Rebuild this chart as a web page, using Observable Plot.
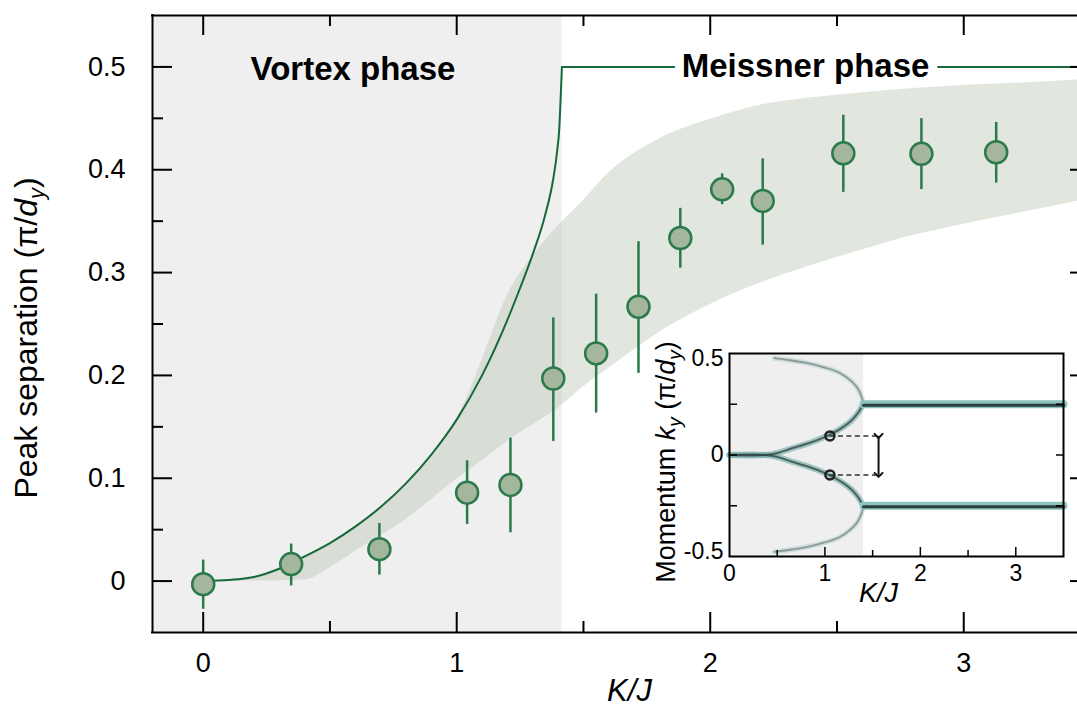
<!DOCTYPE html>
<html>
<head>
<meta charset="utf-8">
<script src="https://cdn.jsdelivr.net/npm/d3@7"></script>
<script src="https://cdn.jsdelivr.net/npm/@observablehq/plot@0.6"></script>
<style>
html,body{margin:0;padding:0;background:#fff;overflow:hidden;}
#wrap{position:relative;width:1077px;height:709px;overflow:hidden;background:#fff;}
#wrap svg{position:absolute;}
</style>
</head>
<body>
<div id="wrap"></div>
<script>
// ================= DATA : main panel =================
const kj    = [0, 0.347, 0.695, 1.041, 1.212, 1.381, 1.55, 1.717, 1.882, 2.047, 2.207, 2.525, 2.833, 3.128];
const sep   = [-0.003, 0.0165, 0.031, 0.086, 0.0935, 0.197, 0.2214, 0.2668, 0.3336, 0.381, 0.3697, 0.416, 0.4155, 0.417];
const sepHi = [0.0204, 0.036, 0.056, 0.117, 0.139, 0.256, 0.279, 0.33, 0.3625, 0.396, 0.4106, 0.453, 0.4497, 0.446];
const sepLo = [-0.0274, -0.0047, 0.0058, 0.0551, 0.047, 0.1358, 0.1634, 0.202, 0.3043, 0.366, 0.3267, 0.378, 0.3807, 0.387];

const theoryK   = [0, 0.1, 0.2, 0.3, 0.4, 0.5, 0.6, 0.7, 0.8, 0.9, 1.0, 1.1, 1.2, 1.25, 1.3, 1.35, 1.38, 1.395, 1.405, 1.41, 1.415];
const theorySep = [0, 0.001, 0.004, 0.012, 0.024, 0.037, 0.053, 0.072, 0.095, 0.123, 0.157, 0.2, 0.254, 0.285, 0.318, 0.357, 0.39, 0.416, 0.442, 0.47, 0.5];
const criticalK   = 1.415;
const meissnerSep = 0.5;

const bandK  = [0, 0.2, 0.4, 0.5, 0.6, 0.8, 1.0, 1.06, 1.1, 1.2, 1.3, 1.4, 1.5, 1.6, 1.8, 2.0, 2.2, 2.4, 2.6, 2.8, 3.0, 3.2, 3.5];
const bandHi = [0, 0.004, 0.024, 0.037, 0.053, 0.095, 0.157, 0.19, 0.215, 0.278, 0.316, 0.345, 0.37, 0.397, 0.43, 0.449, 0.463, 0.47, 0.475, 0.479, 0.482, 0.484, 0.488];
const bandLo = [0, 0, 0.001, 0.013, 0.029, 0.06, 0.099, 0.11, 0.117, 0.136, 0.152, 0.168, 0.189, 0.207, 0.242, 0.269, 0.29, 0.307, 0.322, 0.336, 0.347, 0.357, 0.372];

const xTicksMajor = [0, 1, 2, 3];
const xTicksMinor = [0.5, 1.5, 2.5];
const yTicksMajor = [0, 0.1, 0.2, 0.3, 0.4, 0.5];
const yTicksMinor = [0.05, 0.15, 0.25, 0.35, 0.45];
const phaseLabels = ["Vortex phase", "Meissner phase"];
const phaseLabelK = [0.591, 2.376];
const xLabel = "K/J";
const yLabel = "Peak separation (π/dy)";

// ================= DATA : inset =================
const insetCriticalK = 1.405;
const innerK  = [0, 0.374, 0.514, 0.654, 0.829, 0.99, 1.17, 1.275, 1.345, 1.38, 1.405];
const innerKy = [0, 0, 0.0115, 0.033, 0.0576, 0.087, 0.1316, 0.169, 0.206, 0.232, 0.25];
const outerK  = [1.405, 1.39, 1.33, 1.16, 0.99, 0.82, 0.62, 0.47];
const outerKy = [0.25, 0.28, 0.337, 0.403, 0.432, 0.452, 0.468, 0.477];
const meissnerKy = 0.25;
const markerK  = 1.052;
const markerKy = [0.094, -0.098];
const arrowK   = 1.562;
const dashEndK = 1.597;
const insetXTicksMajor = [1, 2, 3];
const insetXTicksMinor = [0.5, 1.5, 2.5];
const insetXLabels = [0, 1, 2, 3];
const insetYTicks  = [-0.25, 0, 0.25];
const insetXLabel = "K/J";
const insetYLabel = "Momentum ky (π/dy)";

// ================= helpers =================
const FONT = "'Liberation Sans', Arial, Helvetica, sans-serif";
function richText(svg, match, parts) {
  d3.select(svg).selectAll("text").filter(function () { return this.textContent === match; }).each(function () {
    const t = d3.select(this);
    t.text(null);
    for (const p of parts) {
      const ts = t.append("tspan").text(p.t);
      if (p.i) ts.attr("font-style", "italic");
      if (p.dy) ts.attr("dy", p.dy);
      if (p.fs) ts.attr("font-size", p.fs);
    }
  });
}

// ================= main chart =================
const W = 1090, H = 709, mL = 152, mT = 15, mB = 77, mR = 0;
const xDom = [-0.2, 3.5], yDom = [-0.05, 0.55];
const yPx = (yDom[1] - yDom[0]) / (H - mT - mB);
const xPx = (xDom[1] - xDom[0]) / (W - mL - mR);
const majLen = 20, minLen = 11;

const pts = kj.map((k, i) => ({k, s: sep[i], hi: sepHi[i], lo: sepLo[i]}));
const theory = theoryK.map((k, i) => ({k, s: theorySep[i]}));
const meissner = [{k: criticalK, s: meissnerSep}, {k: xDom[1], s: meissnerSep}];
const band = bandK.map((k, i) => ({k, hi: bandHi[i], lo: bandLo[i]}));
const GREEN = "#17683a", GREEN2 = "#2b7a4c";

const main = Plot.plot({
  width: W, height: H,
  marginLeft: mL, marginRight: mR, marginTop: mT, marginBottom: mB,
  x: {domain: xDom},
  y: {domain: yDom},
  style: {fontFamily: FONT, fontSize: "27px", background: "white", maxWidth: "none", color: "black"},
  marks: [
    Plot.rect([{x1: xDom[0], x2: criticalK, y1: yDom[0], y2: yDom[1]}], {x1: "x1", x2: "x2", y1: "y1", y2: "y2", fill: "#efefef"}),
    Plot.areaY(band, {x: "k", y1: "lo", y2: "hi", fill: "#b8c4b2", fillOpacity: 0.42, curve: "monotone-x", clip: true}),
    Plot.line(theory, {x: "k", y: "s", stroke: GREEN, strokeWidth: 2, curve: "monotone-x"}),
    Plot.line(meissner, {x: "k", y: "s", stroke: GREEN, strokeWidth: 2}),
    Plot.ruleX(pts, {x: "k", y1: "lo", y2: "hi", stroke: GREEN2, strokeWidth: 2.5}),
    Plot.dot(pts, {x: "k", y: "s", r: 11, fill: "#a4b69c", stroke: GREEN2, strokeWidth: 2.5}),
    Plot.text([phaseLabels[0]], {x: phaseLabelK[0], y: meissnerSep, dy: 3, fontSize: 33, fontWeight: "bold", fill: "black", textAnchor: "middle", lineAnchor: "middle"}),
    Plot.text([phaseLabels[1]], {x: phaseLabelK[1], y: meissnerSep, dy: 0, fontSize: 33, fontWeight: "bold", fill: "black", textAnchor: "middle", lineAnchor: "middle",
      stroke: "white", strokeWidth: 18, strokeLinejoin: "round", paintOrder: "stroke"}),
    // frame
    Plot.ruleY([yDom[0], yDom[1]], {stroke: "black", strokeWidth: 2, strokeLinecap: "square"}),
    Plot.ruleX([xDom[0], xDom[1]], {stroke: "black", strokeWidth: 2, strokeLinecap: "square"}),
    // inward ticks
    Plot.ruleX(xTicksMajor, {x: d => d, y1: yDom[0], y2: yDom[0] + majLen * yPx, stroke: "black", strokeWidth: 2}),
    Plot.ruleX(xTicksMinor, {x: d => d, y1: yDom[0], y2: yDom[0] + minLen * yPx, stroke: "black", strokeWidth: 2}),
    Plot.ruleX(xTicksMajor, {x: d => d, y1: yDom[1] - majLen * yPx, y2: yDom[1], stroke: "black", strokeWidth: 2}),
    Plot.ruleX(xTicksMinor, {x: d => d, y1: yDom[1] - minLen * yPx, y2: yDom[1], stroke: "black", strokeWidth: 2}),
    Plot.ruleY(yTicksMajor, {y: d => d, x1: xDom[0], x2: xDom[0] + majLen * xPx, stroke: "black", strokeWidth: 2}),
    Plot.ruleY(yTicksMinor, {y: d => d, x1: xDom[0], x2: xDom[0] + minLen * xPx, stroke: "black", strokeWidth: 2}),
    Plot.ruleY(yTicksMajor, {y: d => d, x1: xDom[1] - majLen * xPx, x2: xDom[1], stroke: "black", strokeWidth: 2}),
    Plot.ruleY(yTicksMinor, {y: d => d, x1: xDom[1] - minLen * xPx, x2: xDom[1], stroke: "black", strokeWidth: 2}),
    // tick labels
    Plot.axisX(xTicksMajor, {tickSize: 0, tickPadding: 20, label: null, fontSize: 27, tickFormat: d => String(d)}),
    Plot.axisY(yTicksMajor, {tickSize: 0, tickPadding: 27, label: null, fontSize: 27, tickFormat: d => d === 0 ? "0" : d.toFixed(1)}),
    // axis titles
    Plot.text([xLabel], {frameAnchor: "bottom", dx: 8, dy: 59, fontSize: 31, fontStyle: "italic", fill: "black", textAnchor: "middle", lineAnchor: "middle"}),
    Plot.text([yLabel], {frameAnchor: "left", rotate: -90, dx: -126, dy: 14, fontSize: 32, fill: "black", textAnchor: "middle", lineAnchor: "middle"})
  ]
});
main.style.left = "0px"; main.style.top = "0px";
richText(main, yLabel, [
  {t: "Peak separation (π/"}, {t: "d", i: true}, {t: "y", i: true, dy: "7", fs: "22"}, {t: ")", dy: "-7"}
]);
document.getElementById("wrap").appendChild(main);

// ================= inset =================
const IW = 435, IH = 290, iL = 90, iR = 11, iT = 23, iB = 64;
const ixDom = [0, 3.5], iyDom = [-0.5, 0.5];
const ixPx = (ixDom[1] - ixDom[0]) / (IW - iL - iR);
const iyPx = (iyDom[1] - iyDom[0]) / (IH - iT - iB);

const mirror = (K, KY) => [].concat(
  K.map((k, i) => ({k, ky: KY[i], z: "up"})),
  K.map((k, i) => ({k, ky: -KY[i], z: "down"})));
const inner = mirror(innerK, innerKy);
const outer = mirror(outerK, outerKy);
const mBand = [
  {k: insetCriticalK, ky: meissnerKy, z: "up"}, {k: ixDom[1], ky: meissnerKy, z: "up"},
  {k: insetCriticalK, ky: -meissnerKy, z: "down"}, {k: ixDom[1], ky: -meissnerKy, z: "down"}
];
const markers = markerKy.map(ky => ({k: markerK, ky}));

const inset = Plot.plot({
  width: IW, height: IH,
  marginLeft: iL, marginRight: iR, marginTop: iT, marginBottom: iB,
  x: {domain: ixDom},
  y: {domain: iyDom},
  style: {fontFamily: FONT, fontSize: "23px", background: "transparent", maxWidth: "none", color: "black", overflow: "visible"},
  marks: [
    Plot.frame({fill: "white", stroke: "none"}),
    Plot.rect([{x1: ixDom[0], x2: insetCriticalK, y1: iyDom[0], y2: iyDom[1]}], {x1: "x1", x2: "x2", y1: "y1", y2: "y2", fill: "#efefef"}),
    Plot.line(outer, {x: "k", y: "ky", z: "z", stroke: "#7fb6b0", strokeWidth: 5, strokeOpacity: 0.3, curve: "catmull-rom"}),
    Plot.line(outer, {x: "k", y: "ky", z: "z", stroke: "#3a4747", strokeWidth: 1.8, strokeOpacity: 0.45, curve: "catmull-rom"}),
    Plot.line(inner, {x: "k", y: "ky", z: "z", stroke: "#6aaaa4", strokeWidth: 6, strokeOpacity: 0.6, curve: "catmull-rom"}),
    Plot.line(inner, {x: "k", y: "ky", z: "z", stroke: "#2f3f3f", strokeWidth: 2, strokeOpacity: 0.75, curve: "catmull-rom"}),
    Plot.line(mBand, {x: "k", y: "ky", z: "z", stroke: "#8cc4be", strokeWidth: 8}),
    Plot.line(mBand, {x: "k", y: "ky", z: "z", stroke: "#2c3f3f", strokeWidth: 3, dy: 1}),
    Plot.ruleY(markers, {y: "ky", x1: markerK, x2: dashEndK, stroke: "#333", strokeWidth: 1.5, strokeDasharray: "5,3.5"}),
    Plot.link([{x1: arrowK, y1: markerKy[0], x2: arrowK, y2: markerKy[1]}], {x1: "x1", y1: "y1", x2: "x2", y2: "y2",
      stroke: "#111", strokeWidth: 2, markerStart: "arrow", markerEnd: "arrow"}),
    Plot.dot(markers, {x: "k", y: "ky", r: 4.5, stroke: "#222", strokeWidth: 2.5, fill: "none"}),
    Plot.frame({stroke: "black", strokeWidth: 2}),
    Plot.ruleX(insetXTicksMajor, {x: d => d, y1: iyDom[0], y2: iyDom[0] + 9 * iyPx, stroke: "black", strokeWidth: 1.5}),
    Plot.ruleX(insetXTicksMinor, {x: d => d, y1: iyDom[0], y2: iyDom[0] + 6 * iyPx, stroke: "black", strokeWidth: 1.5}),
    Plot.ruleY(insetYTicks, {y: d => d, x1: ixDom[0], x2: ixDom[0] + 8 * ixPx, stroke: "black", strokeWidth: 1.5}),
    Plot.ruleY(insetYTicks, {y: d => d, x1: ixDom[1] - 7 * ixPx, x2: ixDom[1], stroke: "black", strokeWidth: 1.5}),
    Plot.axisX(insetXLabels, {tickSize: 0, tickPadding: 8, label: null, fontSize: 23, tickFormat: d => String(d)}),
    Plot.axisY([iyDom[1]], {tickSize: 0, tickPadding: 6, label: null, fontSize: 23, dy: 5, tickFormat: d => String(d)}),
    Plot.axisY([0], {tickSize: 0, tickPadding: 6, label: null, fontSize: 23, tickFormat: d => String(d)}),
    Plot.axisY([iyDom[0]], {tickSize: 0, tickPadding: 6, label: null, fontSize: 23, dy: -5, tickFormat: d => String(d)}),
    Plot.text([insetXLabel], {frameAnchor: "bottom", dx: -18, dy: 37, fontSize: 27, fontStyle: "italic", fill: "black", textAnchor: "middle", lineAnchor: "middle"}),
    Plot.text([insetYLabel], {frameAnchor: "left", rotate: -90, dx: -63, dy: 7, fontSize: 27, fill: "black", textAnchor: "middle", lineAnchor: "middle"})
  ]
});
inset.style.left = "639px"; inset.style.top = "330px";
richText(inset, insetYLabel, [
  {t: "Momentum "}, {t: "k", i: true}, {t: "y", i: true, dy: "6", fs: "19"},
  {t: " (π/", dy: "-6"}, {t: "d", i: true}, {t: "y", i: true, dy: "6", fs: "19"}, {t: ")", dy: "-6"}
]);
document.getElementById("wrap").appendChild(inset);
</script>
</body>
</html>
